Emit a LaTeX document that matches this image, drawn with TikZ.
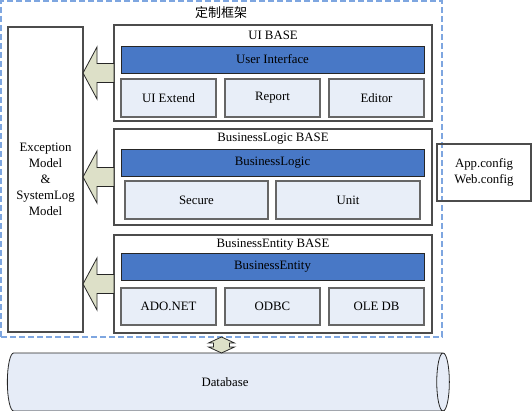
\documentclass[tikz,border=0pt]{standalone}
\usepackage{fontspec}
\setmainfont{Liberation Serif}
\newfontfamily\cjkfont{Noto Sans CJK SC}
\usetikzlibrary{shapes.geometric}

\definecolor{barblue}{RGB}{72,120,198}
\definecolor{partblue}{RGB}{232,238,248}
\definecolor{framecol}{RGB}{126,166,224}
\definecolor{arrowfill}{RGB}{221,224,200}
\definecolor{dbfill}{RGB}{230,236,247}

\begin{document}
\begin{tikzpicture}[x=1pt, y=-1pt,
  every node/.style={font=\fontsize{12.8}{16}\selectfont, inner sep=0pt, outer sep=0pt},
  layer/.style={draw=black!70, line width=1.1pt, fill=white, minimum width=318pt, minimum height=96pt},
  bar/.style={draw=black!85, line width=0.8pt, fill=barblue, minimum width=303pt, minimum height=27pt},
  part/.style={draw=black!60, line width=1.2pt, fill=partblue, minimum width=95pt, minimum height=38pt},
  bigarrow/.style={draw=black!85, line width=0.8pt, fill=arrowfill}]

  \useasboundingbox (0, 0) rectangle (532, 411);

  % outer frame
  \node[draw=framecol, line width=1.1pt, dash pattern=on 6pt off 3pt,
        minimum width=441pt, minimum height=336pt] (frame) at (221.5, 169) {};
  \node[font=\cjkfont\fontsize{13}{15}\selectfont] (title) at (221, 13) {定制框架};

  % left box and config box
  \node[draw=black!70, line width=1.1pt, minimum width=75pt, minimum height=305pt, align=center]
    (exc) at (45.5, 179.5) {Exception\\Model\\\&\\SystemLog\\Model};
  \node[draw=black!70, line width=1.1pt, minimum width=94pt, minimum height=57pt, align=center,
        font=\fontsize{12.8}{16.5}\selectfont]
    (cfg) at (484, 172.5) {App.config\\Web.config};

  % UI layer
  \node[layer] (ui) at (273, 73) {};
  \node (uititle) at (273, 35) {UI BASE};
  \node[bar] (uibar) at (272.5, 59.5) {User Interface};
  \node[part] (uiext) at (168.5, 98) {UI Extend};
  \node[part] (report) at (272.5, 98) {Report};
  \node[part] (editor) at (376.5, 98) {Editor};

  % logic layer
  \node[layer] (bl) at (273, 177) {};
  \node (bltitle) at (273, 139) {BusinessLogic BASE};
  \node[bar] (blbar) at (272.5, 162.5) {BusinessLogic};
  \node[part, minimum width=143pt] (secure) at (196.5, 200) {Secure};
  \node[part, minimum width=144pt] (unit) at (348, 200) {Unit};

  % entity layer
  \node[layer, minimum height=98pt] (be) at (273, 284) {};
  \node (betitle) at (273, 245) {BusinessEntity BASE};
  \node[bar] (bebar) at (272.5, 266.5) {BusinessEntity};
  \node[part, minimum height=37pt] (ado) at (168.5, 306.5) {ADO.NET};
  \node[part, minimum height=37pt] (odbc) at (272.5, 306.5) {ODBC};
  \node[part, minimum height=37pt] (oledb) at (376.5, 306.5) {OLE DB};

  % database
  \node[cylinder, draw=black!85, line width=0.8pt, fill=dbfill, shape aspect=1.4,
        minimum width=58pt, minimum height=442pt] (db) at (225, 382) {Database};

  \draw[bigarrow] ([yshift=9.5pt]ui.west) -- ++(-17, 0) -- ++(0, -16.5) -- (exc.east |- ui.west)
    -- ++(14, 26) -- ++(0, -16.5) -- ([yshift=-9.5pt]ui.west) -- cycle;
  \draw[bigarrow] ([yshift=9.5pt]bl.west) -- ++(-17, 0) -- ++(0, -16.5) -- (exc.east |- bl.west)
    -- ++(14, 26) -- ++(0, -16.5) -- ([yshift=-9.5pt]bl.west) -- cycle;
  \draw[bigarrow] ([yshift=9.5pt]be.west) -- ++(-17, 0) -- ++(0, -16.5) -- (exc.east |- be.west)
    -- ++(14, 26) -- ++(0, -16.5) -- ([yshift=-9.5pt]be.west) -- cycle;

  \draw[bigarrow] (frame.south) -- ++(13, 6) -- ++(-5, 0) -- ++(0, 4) -- ++(5, 0) -- (frame.south |- db.north)
    -- ++(-13, -6) -- ++(5, 0) -- ++(0, -4) -- ++(-5, 0) -- cycle;

\end{tikzpicture}
\end{document}
